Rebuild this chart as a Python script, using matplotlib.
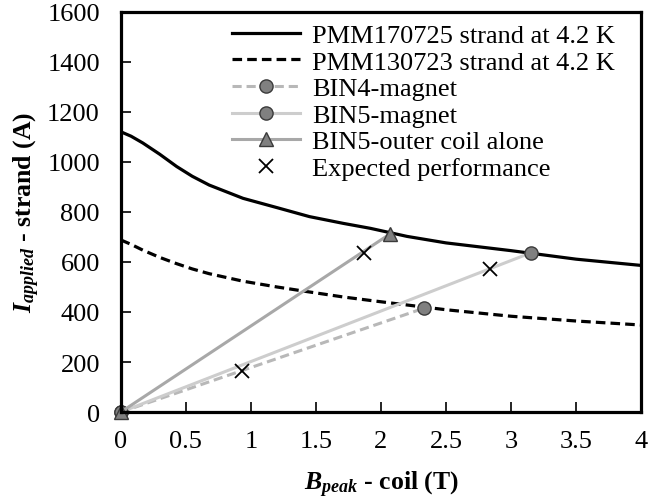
import matplotlib

matplotlib.use("Agg")
import matplotlib.pyplot as plt

plt.rcParams["font.family"] = ["Liberation Serif", "DejaVu Serif"]
plt.rcParams["mathtext.fontset"] = "custom"
plt.rcParams["mathtext.rm"] = "Liberation Serif"
plt.rcParams["mathtext.it"] = "Liberation Serif:italic"
plt.rcParams["mathtext.bf"] = "Liberation Serif:bold"
plt.rcParams["mathtext.bfit"] = "Liberation Serif:italic:bold"

# strand critical-current curves at 4.2 K
b_strand = [0, 0.08, 0.17, 0.3, 0.43, 0.55, 0.68, 0.94, 1.2, 1.45, 1.71, 1.92, 2.2, 2.5, 3.0, 3.5, 4.0]
i_pmm170725 = [1120, 1102, 1075, 1030, 981, 942, 907, 854, 817, 781, 754, 734, 702, 676, 645, 611, 586]
i_pmm130723 = [688, 670, 647, 618, 593, 572, 553, 523, 500, 480, 460, 446, 428, 409, 383, 364, 348]

# load lines (origin -> quench point)
bin4_b = [0, 2.33]
bin4_i = [0, 415]
bin5_b = [0, 3.15]
bin5_i = [0, 636]
outer_b = [0, 2.07]
outer_i = [0, 712]

# expected performance
exp_b = [0.93, 1.87, 2.84]
exp_i = [165, 637, 572]

fig = plt.figure(figsize=(6.49, 5.02), dpi=100)
ax = fig.add_axes([0.186, 0.177, 0.802, 0.798])

ax.plot(b_strand, i_pmm170725, color="black", lw=2.3, label="PMM170725 strand at 4.2 K")
ax.plot(b_strand, i_pmm130723, color="black", lw=2.3, ls=(0, (3, 1.6)),
        label="PMM130723 strand at 4.2 K")
mk = dict(markersize=9.5, markerfacecolor="#808080", markeredgecolor="#3a3a3a",
          markeredgewidth=1.0, clip_on=False)
ax.plot(bin4_b, bin4_i, color="#b8b8b8", lw=2.2, ls=(0, (3, 1.6)), marker="o",
        label="BIN4-magnet", **mk)
ax.plot(bin5_b, bin5_i, color="#cdcdcd", lw=2.2, marker="o", label="BIN5-magnet", **mk)
ax.plot(outer_b, outer_i, color="#a8a8a8", lw=2.2, marker="^",
        label="BIN5-outer coil alone", **mk)
ax.plot(exp_b, exp_i, ls="none", marker="x", color="black", markersize=10.5,
        markeredgewidth=1.3, label="Expected performance")

ax.set_xlim(0, 4)
ax.set_ylim(0, 1600)
ax.set_xticks([0, 0.5, 1, 1.5, 2, 2.5, 3, 3.5, 4])
ax.set_xticklabels(["0", "0.5", "1", "1.5", "2", "2.5", "3", "3.5", "4"])
ax.set_yticks(range(0, 1601, 200))
ax.tick_params(direction="in", length=7, width=1.2, labelsize=19)
ax.tick_params(axis="x", pad=13)
ax.tick_params(axis="y", pad=15)
for s in ax.spines.values():
    s.set_linewidth(2.3)

ax.set_xlabel(r"$\mathbfit{B}_{\mathbfit{peak}}$ - coil (T)", fontsize=18.5,
              fontweight="bold", labelpad=12)
ax.set_ylabel(r"$\mathbfit{I}_{\mathbfit{applied}}$ - strand (A)", fontsize=18.5,
              fontweight="bold", labelpad=4)

ax.legend(loc="upper right", frameon=False, fontsize=19, handlelength=2.6,
          handletextpad=0.45, labelspacing=0.12, borderaxespad=0.05,
          bbox_to_anchor=(0.973, 1.0))

fig.savefig("out.png", dpi=100)
